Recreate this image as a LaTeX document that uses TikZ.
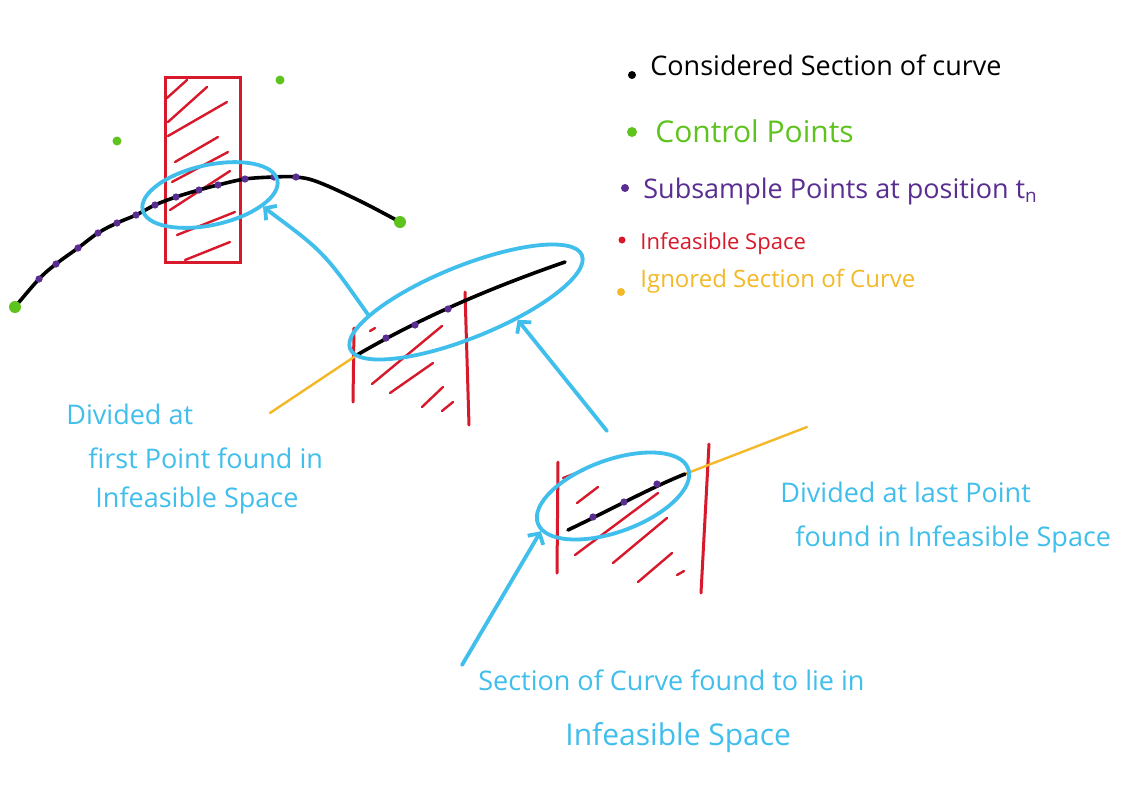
\documentclass[tikz,border=0pt]{standalone}
\usepackage{fontspec}
\setmainfont{Open Sans}
\usetikzlibrary{arrows.meta,shapes.geometric}
\definecolor{cblue}{RGB}{64,190,236}
\definecolor{cred}{RGB}{215,25,43}
\definecolor{cgreen}{RGB}{95,195,30}
\definecolor{cpurple}{RGB}{90,45,145}
\definecolor{cyellow}{RGB}{243,185,40}
\begin{document}
\begin{tikzpicture}[x=0.5pt,y=-0.5pt,
  curveline/.style={black,line width=1.8pt,line cap=round},
  redline/.style={cred,line width=1.5pt,line cap=round},
  hatchline/.style={cred,line width=1.2pt,line cap=round},
  yellowline/.style={cyellow,line width=1.2pt,line cap=round},
  ell/.style={ellipse,draw=cblue,line width=1.9pt,inner sep=0pt},
  arr/.style={cblue,line width=1.9pt,line cap=round,-{Straight Barb[length=4pt,width=9pt,line width=1.9pt]}},
  subpt/.style={circle,fill=cpurple,inner sep=0pt,minimum size=3.6pt},
  ctrlpt/.style={circle,fill=cgreen,inner sep=0pt,minimum size=4.5pt},
  endpt/.style={circle,fill=cgreen,inner sep=0pt,minimum size=6pt},
  legdot/.style={circle,inner sep=0pt,minimum size=4pt},
  legtxt/.style={anchor=base west,inner sep=0pt,font=\fontsize{13.5}{16}\selectfont},
  lbl/.style={anchor=base west,inner sep=0pt,text=cblue,font=\fontsize{13.5}{16}\selectfont}]
\useasboundingbox (0,0) rectangle (1126,810);
\fill[white] (0,0) rectangle (1126,810);

% ---------- top: full curve with infeasible rectangle ----------
\draw[redline] (165,77) rectangle (240,262);
\foreach \a/\b/\c/\d in {167/98/187/80, 168/122/207/87, 168/136/227/102, 175/162/218/137,
  172/182/228/152, 170/210/230/171, 177/235/235/212, 185/260/230/242}
  \draw[hatchline] (\a,\b) -- (\c,\d);

\draw[curveline] plot[smooth,tension=0.6] coordinates {(15,307) (39,279) (56,264) (78,248) (98,233)
  (117,223) (136,215) (155,205) (176,197) (199,190) (218,185) (245,179) (274,177) (296,177)
  (318,182) (360,201) (400,222)};
\foreach \x/\y [count=\i] in {39/279, 56/264, 78/248, 98/233, 117/223, 136/215, 155/205,
  176/197, 199/190, 218/185, 245/179, 274/177, 296/177}
  \node[subpt] (s\i) at (\x,\y) {};
\node[endpt] (g1) at (15,307) {};
\node[endpt] (g4) at (400,222) {};
\node[ctrlpt] (g2) at (117,141) {};
\node[ctrlpt] (g3) at (280,80) {};

\node[ell,minimum width=69pt,minimum height=30pt,rotate=12.5] (e1) at (210,195) {};

% ---------- middle: first division ----------
\draw[redline] (354,328) -- (353,402);
\draw[redline] (465,292) -- (469,425);
\foreach \a/\b/\c/\d in {370/331/375/328, 372/384/442/326, 390/393/433/363, 422/407/443/387, 442/411/453/402}
  \draw[hatchline] (\a,\b) -- (\c,\d);
\draw[yellowline] (357,355) -- (270,413);
\draw[curveline] (357,355) .. controls (420,318) and (490,288) .. (565,262);
\node[subpt] (m1) at (386,338) {};
\node[subpt] (m2) at (415,325) {};
\node[subpt] (m3) at (448,309) {};
\node[ell,minimum width=125pt,minimum height=36pt,rotate=22] (e2) at (466,302) {};

% ---------- bottom: second division ----------
\draw[redline] (558,462) -- (557,573);
\draw[redline] (709,444) -- (701,593);
\foreach \a/\b/\c/\d in {563/478/584/470, 577/503/598/487, 575/555/658/493, 613/563/667/518, 638/582/672/553, 677/575/684/571}
  \draw[hatchline] (\a,\b) -- (\c,\d);
\draw[yellowline] (685,474) -- (807,427);
\draw[curveline] (568,530) .. controls (610,510) and (650,488) .. (685,474);
\node[subpt] (b1) at (593,517) {};
\node[subpt] (b2) at (624,502) {};
\node[subpt] (b3) at (657,484) {};
\node[ell,minimum width=80pt,minimum height=36pt,rotate=20] (e3) at (613,496) {};

% ---------- arrows ----------
\coordinate (a1) at (369,316);
\coordinate (a2) at (607,431);
\coordinate (a3) at (462,665);
\draw[arr] (a1) .. controls (324,252) .. (e1.-25);
\draw[arr] (a2) -- (e2.-41);
\draw[arr] (a3) -- (e3.186);

% ---------- legend ----------
\node[legdot,fill=black] (d1) at (632,75) {};
\node[legdot,fill=cgreen,minimum size=5pt] (d2) at (632,132) {};
\node[legdot,fill=cpurple] (d3) at (625,188) {};
\node[legdot,fill=cred,minimum size=3.5pt] (d4) at (622,240) {};
\node[legdot,fill=cyellow] (d5) at (621,292) {};
\node[legtxt,text=black] (t1) at (650,75) {Considered Section of curve};
\node[legtxt,text=cgreen,font=\fontsize{15}{18}\selectfont] (t2) at (655,142) {Control Points};
\node[legtxt,text=cpurple] (t3) at (643,198) {Subsample Points at position t\textsubscript{n}};
\node[legtxt,text=cred,font=\fontsize{11}{13}\selectfont] (t4) at (640,249) {Infeasible Space};
\node[legtxt,text=cyellow,font=\fontsize{12}{14}\selectfont] (t5) at (640,287) {Ignored Section of Curve};

% ---------- blue labels ----------
\node[lbl] (l1) at (66,424) {Divided at};
\node[lbl] (l2) at (88,468) {first Point found in};
\node[lbl] (l3) at (95,507) {Infeasible Space};
\node[lbl] (r1) at (780,502) {Divided at last Point};
\node[lbl] (r2) at (795,546) {found in Infeasible Space};
\node[lbl] (c1) at (478,690) {Section of Curve found to lie in};
\node[lbl,font=\fontsize{15}{18}\selectfont] (c2) at (565,745) {Infeasible Space};
\end{tikzpicture}
\end{document}
